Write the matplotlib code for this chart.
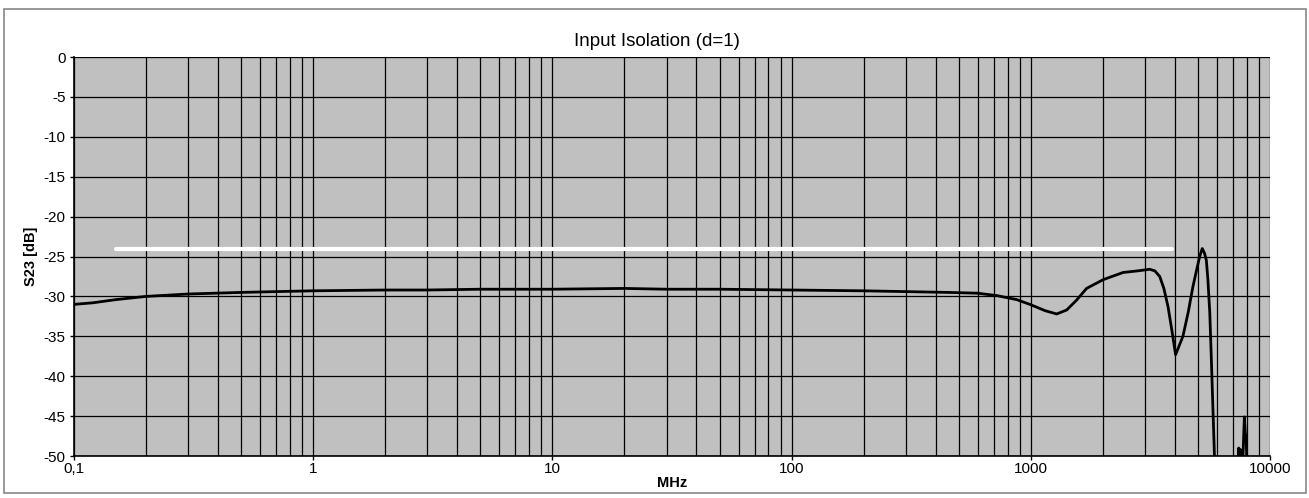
import matplotlib.pyplot as plt
from matplotlib.patches import Rectangle
from matplotlib.ticker import FixedLocator, FixedFormatter, LogLocator, NullFormatter

plt.rcParams['font.family'] = ['Liberation Sans', 'DejaVu Sans']
plt.rcParams['axes.unicode_minus'] = False

# measured isolation curve (MHz, dB)
freq = [0.1, 0.12, 0.15, 0.2, 0.3, 0.5, 0.7, 1, 2, 3, 5, 10, 20, 30, 50, 100,
        200, 300, 450, 600, 721, 872, 991, 1150, 1283, 1413, 1550, 1711, 2008,
        2432, 2800, 3142, 3300, 3459, 3600, 3748, 3900, 4030, 4325, 4550, 4760,
        4950, 5080, 5210, 5325, 5420, 5500, 5600, 5675, 5860, 6000,
        7300, 7400, 7450, 7520, 7600, 7700, 7813, 7880, 7950, 8000, 8100]
s23 = [-31.0, -30.8, -30.4, -30.0, -29.7, -29.5, -29.4, -29.3, -29.2, -29.2,
       -29.1, -29.1, -29.0, -29.1, -29.1, -29.2, -29.3, -29.4, -29.5, -29.6,
       -29.9, -30.4, -31.0, -31.8, -32.2, -31.7, -30.5, -29.0, -27.9,
       -27.0, -26.8, -26.6, -26.8, -27.5, -29.0, -31.3, -34.5, -37.3, -35.0,
       -32.0, -28.8, -26.5, -25.0, -24.0, -24.6, -25.5, -27.9, -32.0, -37.1,
       -50.1, -56.0,
       -55.0, -49.0, -50.5, -49.2, -51.0, -50.5, -45.1, -47.0, -47.9, -50.5, -56.0]

# white reference limit line
limit_freq = [0.15, 3900]
limit_db = [-24.1, -24.1]

x_ticks = [0.1, 1, 10, 100, 1000, 10000]
x_labels = ['0,1', '1', '10', '100', '1000', '10000']
y_ticks = list(range(-50, 1, 5))

fig = plt.figure(figsize=(13.09, 4.98), dpi=100, facecolor='white')
fig.patches.append(Rectangle((4 / 1309, 5 / 498), 1302 / 1309, 484 / 498,
                             transform=fig.transFigure, fill=False,
                             edgecolor='#888888', linewidth=1.2))
ax = fig.add_axes([74 / 1309, 42 / 498, 1196 / 1309, 399 / 498])
ax.set_facecolor('#c0c0c0')

ax.set_xscale('log')
ax.set_xlim(0.1, 10000)
ax.set_ylim(-50, 0)

ax.xaxis.set_major_locator(FixedLocator(x_ticks))
ax.xaxis.set_major_formatter(FixedFormatter(x_labels))
ax.xaxis.set_minor_locator(LogLocator(base=10, subs=range(2, 10)))
ax.xaxis.set_minor_formatter(NullFormatter())
ax.set_yticks(y_ticks)

ax.grid(True, which='both', axis='x', color='black', linewidth=0.9)
ax.grid(True, which='major', axis='y', color='black', linewidth=0.9)
ax.set_axisbelow(True)

ax.plot(limit_freq, limit_db, color='white', linewidth=3, solid_capstyle='round')
ax.plot(freq, s23, color='black', linewidth=2)

for side in ['top', 'right']:
    ax.spines[side].set_visible(False)
ax.spines['left'].set_linewidth(1.2)
ax.spines['bottom'].set_linewidth(1.2)
ax.tick_params(axis='both', which='major', direction='out', length=3,
               labelsize=11, width=1)
ax.tick_params(axis='x', which='major', pad=1)
ax.tick_params(axis='y', which='major', pad=3)
ax.tick_params(axis='x', which='minor', length=0)

fig.text(0.502, 1 - 42 / 498, 'Input Isolation (d=1)', fontsize=13.5,
         ha='center', va='center')
ax.set_xlabel('MHz', fontsize=10.5, fontweight='bold', labelpad=0)
ax.set_ylabel('S23 [dB]', fontsize=10.5, fontweight='bold', labelpad=4)

plt.savefig('out.png', dpi=100, facecolor='white')
